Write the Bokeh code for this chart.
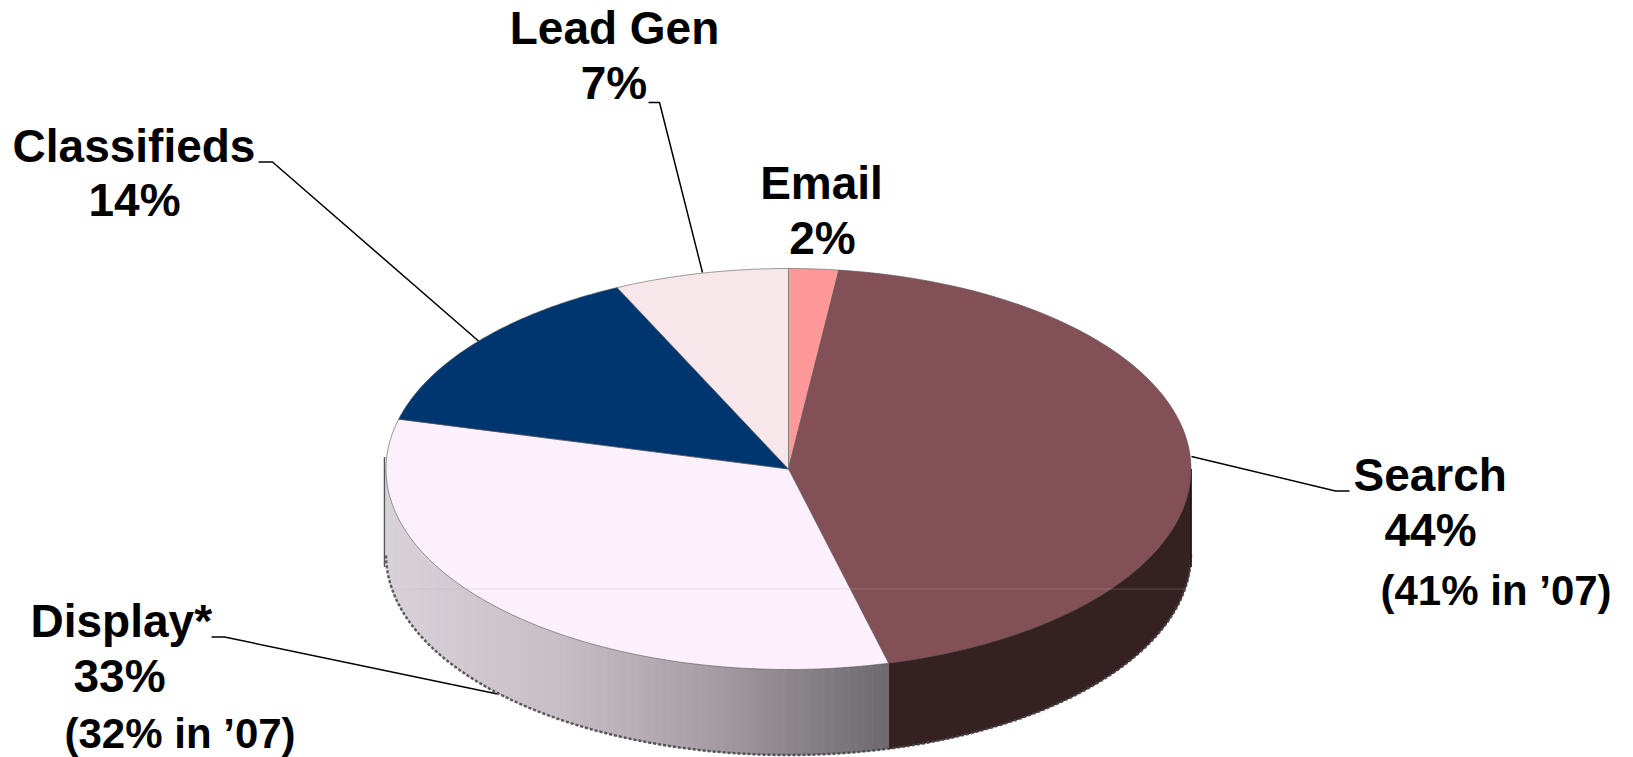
import numpy as np
from bokeh.plotting import figure
from bokeh.models import Range1d
from bokeh.core.properties import value
from bokeh.embed import file_html
from bokeh.resources import INLINE

# ---- data ----
categories = ["Email", "Search", "Display", "Classifieds", "Lead Gen"]
shares = [2, 44, 33, 14, 7]
label_lines = [
    ["Email", "2%"],
    ["Search", "44%", "(41% in \u201907)"],
    ["Display*", "33%", "(32% in \u201907)"],
    ["Classifieds", "14%"],
    ["Lead Gen", "7%"],
]

# ---- styling / layout ----
top_colors = ["#FF9999", "#845058", "#FCF0FD", "#003670", "#F7E7EB"]
search_side = "#352022"
CX, CY, RX, RY, DEPTH = 788.0, 468.5, 402.5, 200.5, 85.5
W, H = 1633, 757

p = figure(width=W, height=H, x_range=Range1d(0, W), y_range=Range1d(H, 0),
           output_backend="svg", toolbar_location=None, min_border=0,
           margin=(0, 0, 0, 0))
p.axis.visible = False
p.grid.visible = False
p.outline_line_color = None
p.background_fill_color = "white"
p.border_fill_color = "white"


def ell(t_deg, dy=0.0):
    t = np.radians(t_deg)
    return CX + RX * np.sin(t), CY - RY * np.cos(t) + dy


edges = np.concatenate([[0], np.cumsum(shares)]) * 3.6
search_end = edges[2]

# side wall: Search part
ts = np.linspace(90, search_end, 60)
xa, ya = ell(ts)
xb, yb = ell(ts[::-1], DEPTH)
p.patch(list(xa) + list(xb), list(ya) + list(yb), fill_color=search_side,
        line_color=search_side, line_width=1)

# side wall: Display part, stepped grey gradient from right to left
stops_x = [386, 560, 700, 886]
stops_r = [218, 200, 170, 110]
stops_g = [210, 190, 160, 106]
stops_b = [218, 198, 168, 112]
strip_xs, strip_ys, strip_cols = [], [], []
n = 64
xs_edge = np.linspace(CX + RX * np.sin(np.radians(search_end)), CX - RX, n + 1)
for i in range(n):
    x0, x1 = xs_edge[i], xs_edge[i + 1]
    t0 = 180 + np.degrees(np.arcsin(np.clip((CX - x0) / RX, -1, 1)))
    t1 = 180 + np.degrees(np.arcsin(np.clip((CX - x1) / RX, -1, 1)))
    tt = np.linspace(t0, t1, 8)
    xa, ya = ell(tt)
    xb, yb = ell(tt[::-1], DEPTH)
    xm = 0.5 * (x0 + x1)
    col = "#%02x%02x%02x" % (int(np.interp(xm, stops_x, stops_r)),
                             int(np.interp(xm, stops_x, stops_g)),
                             int(np.interp(xm, stops_x, stops_b)))
    strip_xs.append(list(xa) + list(xb))
    strip_ys.append(list(ya) + list(yb))
    strip_cols.append(col)
p.patches(strip_xs, strip_ys, fill_color=strip_cols, line_color=strip_cols, line_width=1)

# rough grey rim under the wall
tb = np.linspace(90, 270, 240)
xb, yb = ell(tb, DEPTH)
p.line(xb, yb, line_color="#444444", line_width=2.5, line_dash="3 2", line_alpha=0.85)
p.line([CX - RX - 1.5] * 2, [CY - 12, CY + 98], line_color="#555555", line_width=1.5)
p.line([CX + RX] * 2, [CY, CY + 98], line_color="#1c1012", line_width=1.5)

# top face
for i, c in enumerate(categories):
    tt = np.linspace(edges[i], edges[i + 1], 120)
    xa, ya = ell(tt)
    p.patch([CX] + list(xa), [CY] + list(ya), fill_color=top_colors[i],
            line_color="#555555", line_width=0.8, line_alpha=0.75)

# faint horizontal seam of the original picture
p.line([CX - RX, CX + RX], [588.5, 588.5], line_color="#b8b0b4", line_width=1, line_alpha=0.3)

# leader lines
leaders = {
    "Classifieds": ([258, 272, 478], [161.5, 161.5, 340.5]),
    "Lead Gen": ([648, 659, 702], [102, 102, 272]),
    "Search": ([1191, 1335, 1349], [456, 490.5, 490.5]),
    "Display": ([211, 224, 497], [636.5, 636.5, 693.5]),
}
for xs, ys in leaders.values():
    p.line(xs, ys, line_color="black", line_width=1.5)

# labels
label_pos = {
    "Email": [(821, 182.5, "center"), (822, 237, "center")],
    "Search": [(1353, 474.5, "left"), (1384, 529.5, "left"), (1380, 589.5, "left")],
    "Display": [(30, 620.5, "left"), (73, 675.5, "left"), (64, 733, "left")],
    "Classifieds": [(133.5, 145, "center"), (134, 199.5, "center")],
    "Lead Gen": [(614, 27, "center"), (613.5, 82, "center")],
}
for cat, lines in zip(categories, label_lines):
    for txt, (x, y, al) in zip(lines, label_pos[cat]):
        size = "42px" if txt.startswith("(") else "46px"
        p.text([x], [y], text=[txt], text_font=value("Liberation Sans"),
               text_font_style="bold", text_font_size=size, text_color="black",
               text_align=al, text_baseline="alphabetic")

open("out.html", "w").write(file_html(p, INLINE))
